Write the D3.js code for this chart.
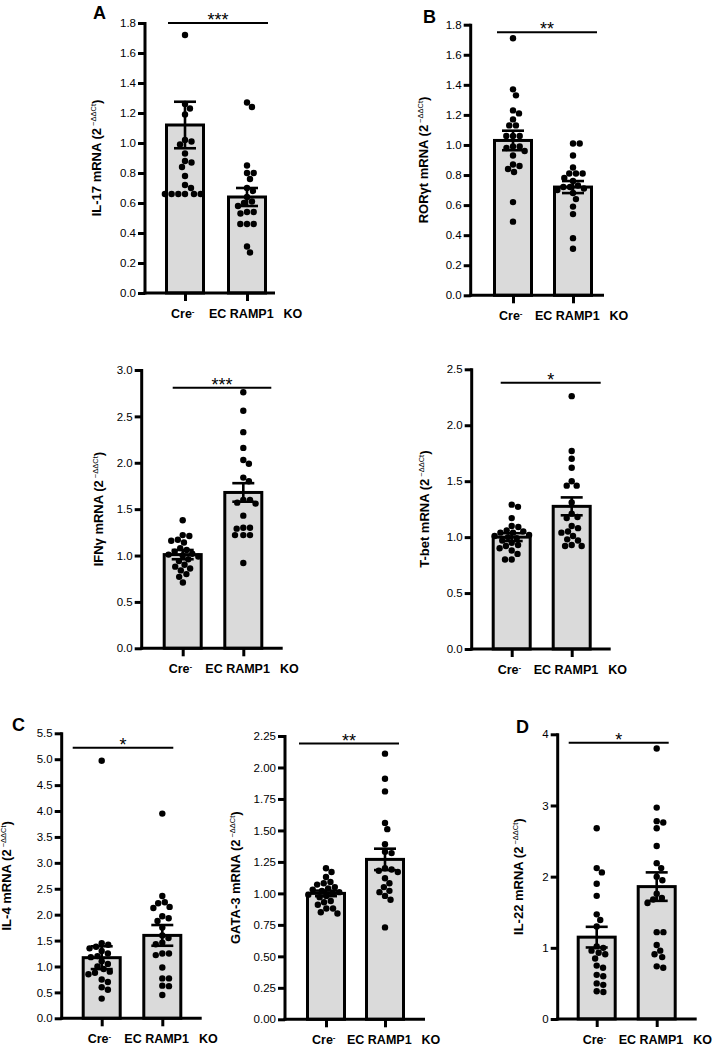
<!DOCTYPE html>
<html><head><meta charset="utf-8">
<script src="https://cdn.jsdelivr.net/npm/d3@7"></script>
<style>
body{margin:0;background:#fff}
svg{display:block}
text{font-family:"Liberation Sans",Arial,Helvetica,sans-serif;fill:#000}
</style>
</head><body>
<svg id="chart" width="718" height="1050"></svg>
<script>
// ---------------- data ----------------
const categories = ["Cre", "EC RAMP1 KO"];

const il17Cre = [1.72, 1.26, 1.23, 1.19, 1.02, 1.01, 0.99, 0.93, 0.88, 0.87, 0.84, 0.78, 0.72, 0.70, 0.66, 0.66, 0.66, 0.66, 0.66, 0.66];
const il17KO  = [1.27, 1.24, 0.85, 0.80, 0.80, 0.76, 0.70, 0.68, 0.64, 0.61, 0.60, 0.58, 0.54, 0.54, 0.53, 0.46, 0.46, 0.46, 0.31, 0.27];
const il17Mean = [1.12, 0.64];
const il17Sem  = [0.155, 0.06];
const il17Ticks = [0, 0.2, 0.4, 0.6, 0.8, 1.0, 1.2, 1.4, 1.6, 1.8];

const rorCre = [1.71, 1.37, 1.33, 1.23, 1.21, 1.17, 1.13, 1.13, 1.06, 1.06, 1.06, 0.99, 0.99, 0.98, 0.96, 0.93, 0.87, 0.86, 0.84, 0.82, 0.62, 0.49];
const rorKO  = [1.01, 1.01, 0.93, 0.85, 0.81, 0.81, 0.81, 0.78, 0.76, 0.73, 0.72, 0.72, 0.71, 0.70, 0.68, 0.64, 0.59, 0.54, 0.38, 0.31];
const rorMean = [1.03, 0.72];
const rorSem  = [0.065, 0.04];
const rorTicks = [0, 0.2, 0.4, 0.6, 0.8, 1.0, 1.2, 1.4, 1.6, 1.8];

const ifnCre = [1.38, 1.22, 1.21, 1.17, 1.16, 1.14, 1.08, 1.06, 1.04, 1.02, 1.01, 1.00, 0.99, 0.96, 0.94, 0.90, 0.88, 0.86, 0.84, 0.80, 0.77, 0.71];
const ifnKO  = [2.76, 2.56, 2.33, 2.16, 2.03, 1.99, 1.84, 1.80, 1.60, 1.60, 1.57, 1.56, 1.43, 1.30, 1.29, 1.30, 1.22, 1.22, 1.22, 0.92];
const ifnMean = [1.01, 1.68];
const ifnSem  = [0.05, 0.10];
const ifnTicks = [0, 0.5, 1.0, 1.5, 2.0, 2.5, 3.0];

const tbetCre = [1.29, 1.27, 1.17, 1.10, 1.09, 1.06, 1.05, 1.04, 1.04, 1.02, 1.01, 1.00, 0.99, 0.97, 0.95, 0.93, 0.92, 0.90, 0.88, 0.85, 0.80, 0.80];
const tbetKO  = [2.26, 1.77, 1.70, 1.62, 1.50, 1.46, 1.46, 1.31, 1.21, 1.18, 1.17, 1.10, 1.08, 1.05, 1.04, 1.01, 0.98, 0.97, 0.93, 0.92, 0.92];
const tbetMean = [1.00, 1.275];
const tbetSem  = [0.035, 0.08];
const tbetTicks = [0, 0.5, 1.0, 1.5, 2.0, 2.5];

const il4Cre = [4.97, 1.45, 1.42, 1.38, 1.35, 1.30, 1.25, 1.20, 1.18, 1.10, 1.05, 1.00, 0.95, 0.90, 0.88, 0.85, 0.75, 0.70, 0.60, 0.55, 0.38];
const il4KO  = [3.95, 2.36, 2.24, 2.22, 2.15, 2.13, 1.97, 1.93, 1.88, 1.75, 1.60, 1.55, 1.46, 1.43, 1.25, 1.25, 1.22, 0.98, 0.77, 0.77, 0.63, 0.62, 0.45];
const il4Mean = [1.17, 1.60];
const il4Sem  = [0.22, 0.20];
const il4Ticks = [0, 0.5, 1.0, 1.5, 2.0, 2.5, 3.0, 3.5, 4.0, 4.5, 5.0, 5.5];

const gataCre = [1.20, 1.17, 1.13, 1.09, 1.08, 1.07, 1.05, 1.04, 1.03, 1.02, 1.01, 1.00, 0.99, 0.98, 0.97, 0.94, 0.93, 0.91, 0.88, 0.88, 0.85, 0.84];
const gataKO  = [2.11, 1.91, 1.81, 1.56, 1.51, 1.39, 1.33, 1.32, 1.20, 1.19, 1.18, 1.17, 1.12, 1.08, 1.05, 1.02, 1.01, 0.98, 0.95, 0.73];
const gataMean = [1.00, 1.27];
const gataSem  = [0.022, 0.085];
const gataTicks = [0, 0.25, 0.5, 0.75, 1.0, 1.25, 1.5, 1.75, 2.0, 2.25];

const il22Cre = [2.68, 2.12, 2.06, 1.90, 1.73, 1.47, 1.39, 1.30, 1.02, 1.00, 0.96, 0.93, 0.91, 0.85, 0.75, 0.72, 0.62, 0.60, 0.50, 0.48, 0.39, 0.38];
const il22KO  = [3.80, 2.97, 2.78, 2.76, 2.68, 2.43, 2.19, 2.12, 2.00, 1.95, 1.76, 1.70, 1.68, 1.63, 1.22, 1.22, 1.04, 0.96, 0.91, 0.87, 0.74, 0.72];
const il22Mean = [1.15, 1.86];
const il22Sem  = [0.145, 0.20];
const il22Ticks = [0, 1, 2, 3, 4];

const geneNames = ["IL-17", "ROR\u03B3t", "IFN\u03B3", "T-bet", "IL-4", "GATA-3", "IL-22"];
const sigLabels = ["***", "**", "***", "*", "*", "**", "*"];
const sigLevels = [1.8, 1.75, 2.81, 2.38, 5.22, 2.19, 3.88];
const tickFormats = [".1f", ".1f", ".1f", ".1f", ".1f", ".2f", "d"];

// ---------------- layout (positions / sizes only) ----------------
const layout = [
  {axisX:145,   y0:293,    yTop:23,    bars:[185,247],     xEnd:275,   labelX:101, sigX:[-17,21], letter:"A", lx:93,  ly:19},
  {axisX:470.7, y0:295.3,  yTop:24.7,  bars:[513,573],     xEnd:604,   labelX:428, sigX:[-16,24], letter:"B", lx:423, ly:23},
  {axisX:141.7, y0:648.3,  yTop:370,   bars:[182.7,243.3], xEnd:282.7, labelX:103, sigX:[-10,28], letter:null},
  {axisX:471.7, y0:649,    yTop:369.3, bars:[511.7,571.7], xEnd:610.7, labelX:429, sigX:[-11,29], letter:null},
  {axisX:61.7,  y0:1018.3, yTop:733.3, bars:[101.7,162.3], xEnd:201.7, labelX:11,  sigX:[-29,11], letter:"C", lx:12,  ly:731},
  {axisX:285,   y0:1019.3, yTop:736,   bars:[326,385],     xEnd:425,   labelX:240, sigX:[-27,14], letter:null},
  {axisX:557.7, y0:1019,   yTop:734.3, bars:[596.7,656.7], xEnd:696.7, labelX:523, sigX:[-28,12], letter:"D", lx:516, ly:733}
];

const panelData = [
  {groups:[il17Cre, il17KO], mean:il17Mean, sem:il17Sem, ticks:il17Ticks},
  {groups:[rorCre, rorKO],   mean:rorMean,  sem:rorSem,  ticks:rorTicks},
  {groups:[ifnCre, ifnKO],   mean:ifnMean,  sem:ifnSem,  ticks:ifnTicks},
  {groups:[tbetCre, tbetKO], mean:tbetMean, sem:tbetSem, ticks:tbetTicks},
  {groups:[il4Cre, il4KO],   mean:il4Mean,  sem:il4Sem,  ticks:il4Ticks},
  {groups:[gataCre, gataKO], mean:gataMean, sem:gataSem, ticks:gataTicks},
  {groups:[il22Cre, il22KO], mean:il22Mean, sem:il22Sem, ticks:il22Ticks}
];

const BAR_W = 37, DOT_R = 3.2, STROKE = 3;

// beeswarm layout: place each dot as close to the bar centre as possible without overlap
function swarm(ys, D) {
  const order = ys.map((y, i) => i).sort((a, b) => ys[a] - ys[b]);
  const xs = new Array(ys.length);
  const placed = [];
  for (const i of order) {
    const y = ys[i];
    const iv = [];
    for (const p of placed) {
      const dy = Math.abs(p.y - y);
      if (dy < D) { const w = Math.sqrt(D * D - dy * dy); iv.push([p.x - w, p.x + w]); }
    }
    const cands = [0];
    iv.forEach(([a, b]) => cands.push(a, b));
    cands.sort((a, b) => Math.abs(a) - Math.abs(b) || b - a);
    let best = 0;
    for (const c of cands) {
      if (iv.every(([a, b]) => c <= a + 1e-6 || c >= b - 1e-6)) { best = c; break; }
    }
    xs[i] = best;
    placed.push({x: best, y});
  }
  return xs;
}

const svg = d3.select("#chart");

panelData.forEach((pd, k) => {
  const L = layout[k];
  const g = svg.append("g");
  const yMax = d3.max(pd.ticks);
  const y = d3.scaleLinear().domain([0, yMax]).range([L.y0, L.yTop]);
  const x = d3.scalePoint().domain(categories).range(L.bars);

  // bars
  g.selectAll("rect.bar").data(categories).join("rect")
    .attr("x", c => x(c) - BAR_W / 2)
    .attr("y", (c, i) => y(pd.mean[i]))
    .attr("width", BAR_W)
    .attr("height", (c, i) => L.y0 - y(pd.mean[i]))
    .attr("fill", "#dadada")
    .attr("stroke", "#000")
    .attr("stroke-width", STROKE);

  // dots
  categories.forEach((c, i) => {
    const vals = pd.groups[i];
    const ys = vals.map(v => y(v));
    const xs = swarm(ys, DOT_R * 2 + 0.3);
    g.selectAll(null).data(vals).join("circle")
      .attr("cx", (v, j) => x(c) + xs[j])
      .attr("cy", v => y(v))
      .attr("r", DOT_R)
      .attr("fill", "#000");
  });

  // error bars
  categories.forEach((c, i) => {
    const m = pd.mean[i], s = pd.sem[i], cx = x(c);
    const eg = g.append("g").attr("stroke", "#000").attr("stroke-width", 2.6);
    eg.append("line").attr("x1", cx).attr("x2", cx).attr("y1", y(m - s)).attr("y2", y(m + s));
    eg.append("line").attr("x1", cx - 11).attr("x2", cx + 11).attr("y1", y(m + s)).attr("y2", y(m + s));
    eg.append("line").attr("x1", cx - 11).attr("x2", cx + 11).attr("y1", y(m - s)).attr("y2", y(m - s));
  });

  // y axis
  const yAxis = d3.axisLeft(y).tickValues(pd.ticks).tickFormat(d3.format(tickFormats[k]))
    .tickSize(7).tickSizeOuter(0).tickPadding(2);
  const ya = g.append("g").attr("transform", `translate(${L.axisX},0)`).call(yAxis);
  ya.select(".domain").remove();
  ya.selectAll(".tick line").attr("stroke", "#000").attr("stroke-width", STROKE);
  ya.selectAll(".tick text").style("font-size", "11.5px").attr("fill", "#000");
  g.append("line").attr("x1", L.axisX).attr("x2", L.axisX).attr("y1", L.y0 + 1.5).attr("y2", L.yTop - 1)
    .attr("stroke", "#000").attr("stroke-width", STROKE);

  // x axis
  const xAxis = d3.axisBottom(x).tickSize(8).tickSizeOuter(0).tickFormat("");
  const xa = g.append("g").attr("transform", `translate(0,${L.y0})`).call(xAxis);
  xa.select(".domain").remove();
  xa.selectAll(".tick line").attr("stroke", "#000").attr("stroke-width", STROKE);
  g.append("line").attr("x1", L.axisX - 1.5).attr("x2", L.xEnd).attr("y1", L.y0).attr("y2", L.y0)
    .attr("stroke", "#000").attr("stroke-width", STROKE);

  // category labels
  const t1 = g.append("text").attr("x", x(categories[0]) - 14).attr("y", L.y0 + 25)
    .style("font-size", "12.5px").style("font-weight", "bold");
  t1.append("tspan").text("Cre");
  t1.append("tspan").text("-").attr("dy", -4).style("font-size", "8px");
  const t2 = g.append("text").attr("x", x(categories[1]) - 38).attr("y", L.y0 + 25)
    .style("font-size", "12.5px").style("font-weight", "bold");
  t2.append("tspan").text("EC RAMP1");
  t2.append("tspan").text("KO").attr("dx", 10);

  // y label
  const cy = (L.y0 + L.yTop) / 2;
  const yl = g.append("text").attr("transform", `translate(${L.labelX},${cy}) rotate(-90)`)
    .attr("text-anchor", "middle").style("font-size", "13px").style("font-weight", "bold");
  yl.append("tspan").text(geneNames[k] + " mRNA (2");
  yl.append("tspan").text("\u2212\u0394\u0394Ct").attr("dy", -5).style("font-size", "7.5px").style("font-weight", "normal").attr("dx", 2);
  yl.append("tspan").text(")").attr("dy", 5);

  // significance
  const sy = y(sigLevels[k]);
  const sx1 = L.bars[0] + L.sigX[0], sx2 = L.bars[1] + L.sigX[1];
  g.append("line").attr("x1", sx1).attr("x2", sx2).attr("y1", sy).attr("y2", sy)
    .attr("stroke", "#000").attr("stroke-width", 2);
  g.append("text").attr("x", (sx1 + sx2) / 2).attr("y", sy + 3).attr("text-anchor", "middle")
    .style("font-size", "18px").text(sigLabels[k]);

  // panel letter
  if (L.letter) {
    g.append("text").attr("x", L.lx).attr("y", L.ly).style("font-size", "18px").style("font-weight", "bold").text(L.letter);
  }
});
</script>
</body></html>
